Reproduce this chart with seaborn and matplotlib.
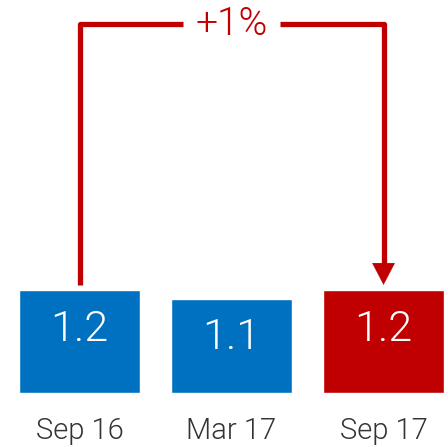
import matplotlib
matplotlib.use("Agg")
import matplotlib.pyplot as plt
import seaborn as sns
import pandas as pd

# data
periods = ["Sep 16", "Mar 17", "Sep 17"]
values = [1.2, 1.1, 1.2]
bar_colors = ["#0070C0", "#0070C0", "#C00000"]
change_label = "+1%"

RED = "#C00000"

sns.set_theme(style="white")
plt.rcParams["font.family"] = ["Roboto", "DejaVu Sans"]

df = pd.DataFrame({"period": periods, "value": values})

fig = plt.figure(figsize=(4.48, 4.47), dpi=100)
ax = fig.add_axes([0, 0, 1, 1])
sns.barplot(data=df, x="period", y="value", hue="period", palette=bar_colors,
            legend=False, width=0.8, saturation=1, ax=ax)

ax.set_xlim(-0.523, 2.424)
ax.set_ylim(-0.638, 4.596)
ax.axis("off")

# values inside bars, period names below
for i, v in enumerate(values):
    ax.text(i, v - 0.46, f"{v:.1f}", ha="center", va="center", color="white",
            fontsize=31, fontweight=300)
    ax.text(i, -0.455, periods[i], ha="center", va="center", color="#333333",
            fontsize=21, fontweight=300)

# bracket arrow from first to last bar
top = 4.315
gap = 0.32
start, end = 0, len(values) - 1
mid = (start + end) / 2
lw = 3.8
ax.plot([start, start, mid - gap], [values[start] + 0.06, top, top], color=RED, lw=lw,
        solid_joinstyle="round", solid_capstyle="butt")
ax.plot([mid + gap, end, end], [top, top, values[end] + 0.3], color=RED, lw=lw,
        solid_joinstyle="round", solid_capstyle="butt")
ax.annotate("", xy=(end, values[end] + 0.06), xytext=(end, values[end] + 0.32),
            arrowprops=dict(arrowstyle="-|>,head_length=1.3,head_width=0.68",
                            color=RED, lw=0.1, shrinkA=0, shrinkB=0))
ax.text(mid, top, change_label, ha="center", va="center", color=RED,
        fontsize=28, fontweight=300)

fig.savefig("out.png", dpi=100)
